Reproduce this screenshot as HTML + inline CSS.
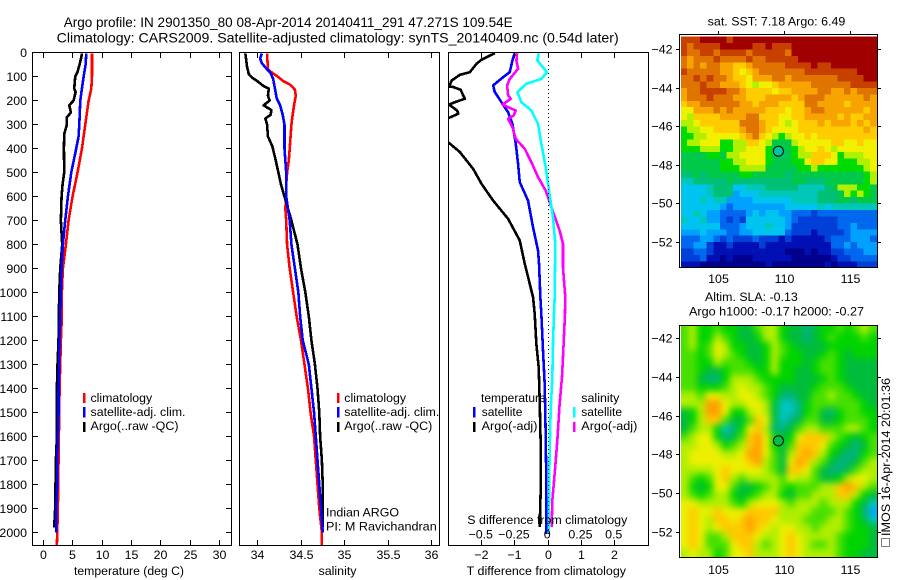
<!DOCTYPE html>
<html>
<head>
<meta charset="utf-8">
<title>Argo profile</title>
<style>
html,body{margin:0;padding:0;background:#fff;}
svg{display:block;}
text{font-family:"Liberation Sans",sans-serif;font-size:12.4px;fill:#000;}
.frame{fill:none;stroke:#000;stroke-width:1;shape-rendering:crispEdges;}
.tick{stroke:#000;stroke-width:1;shape-rendering:crispEdges;}
.mark{shape-rendering:crispEdges;}
.t14{font-size:14px;}
</style>
</head>
<body>
<svg id="chart" xmlns="http://www.w3.org/2000/svg" width="900" height="580" viewBox="0 0 900 580">
<defs>
<clipPath id="clip-diff"><rect x="449" y="53" width="199" height="492"/></clipPath>
<clipPath id="clip-sst"><rect x="681" y="35" width="196" height="232"/></clipPath>
<clipPath id="clip-sla"><rect x="681" y="326" width="196" height="231"/></clipPath>
<filter id="sla-blur" filterUnits="userSpaceOnUse" x="640" y="290" width="260" height="300" color-interpolation-filters="sRGB"><feGaussianBlur stdDeviation="3.4"/></filter>
</defs>
<rect width="900" height="580" fill="#fff"/>

<text class="t14" x="63.7" y="27" textLength="449" lengthAdjust="spacingAndGlyphs">Argo profile: IN 2901350_80 08-Apr-2014 20140411_291 47.271S 109.54E</text>
<text class="t14" x="56.7" y="42.5" textLength="562" lengthAdjust="spacingAndGlyphs">Climatology: CARS2009. Satellite-adjusted climatology: synTS_20140409.nc (0.54d later)</text>

<g id="temp-series"></g>
<g id="sal-series"></g>
<g id="diff-series" clip-path="url(#clip-diff)"></g>
<g id="sst-map" clip-path="url(#clip-sst)"></g>
<g id="sla-clip" clip-path="url(#clip-sla)"><g id="sla-map" filter="url(#sla-blur)"></g></g>

<line id="zero-line" class="tick" x1="548.5" x2="548.5" y1="53" y2="545" stroke-dasharray="1 3"/>
<g id="ticks"></g>

<rect class="frame" x="32.5" y="52.5" width="199" height="493"/>
<rect class="frame" x="239.5" y="52.5" width="200" height="493"/>
<rect class="frame" x="448.5" y="52.5" width="200" height="493"/>
<rect class="frame" x="679.5" y="34.5" width="198" height="233"/>
<rect class="frame" x="679.5" y="325.5" width="198" height="232"/>

<text x="129" y="575" text-anchor="middle" textLength="110" lengthAdjust="spacingAndGlyphs">temperature (deg C)</text>
<text x="337.5" y="575" text-anchor="middle" textLength="38" lengthAdjust="spacingAndGlyphs">salinity</text>
<text x="466.7" y="575" textLength="159.3" lengthAdjust="spacingAndGlyphs">T difference from climatology</text>
<text x="467.3" y="524" textLength="160" lengthAdjust="spacingAndGlyphs">S difference from climatology</text>

<g>
<rect class="mark" x="83" y="393" width="2.5" height="10" fill="#ff0000"/>
<rect class="mark" x="83" y="407" width="2.5" height="10.5" fill="#0000ff"/>
<rect class="mark" x="83" y="422" width="2.5" height="10" fill="#000"/>
<text x="90.5" y="402" textLength="61.7" lengthAdjust="spacingAndGlyphs">climatology</text>
<text x="90.5" y="416" textLength="95" lengthAdjust="spacingAndGlyphs">satellite-adj. clim.</text>
<text x="90.5" y="430" textLength="88" lengthAdjust="spacingAndGlyphs">Argo(..raw -QC)</text>
</g>
<g>
<rect class="mark" x="337" y="393" width="2.5" height="10" fill="#ff0000"/>
<rect class="mark" x="337" y="407" width="2.5" height="10.5" fill="#0000ff"/>
<rect class="mark" x="337" y="422" width="2.5" height="10" fill="#000"/>
<text x="344.3" y="402" textLength="61.7" lengthAdjust="spacingAndGlyphs">climatology</text>
<text x="344.3" y="416" textLength="95" lengthAdjust="spacingAndGlyphs">satellite-adj. clim.</text>
<text x="344.3" y="430" textLength="88" lengthAdjust="spacingAndGlyphs">Argo(..raw -QC)</text>
<text x="326" y="516.5" textLength="73" lengthAdjust="spacingAndGlyphs">Indian ARGO</text>
<text x="326" y="530.5" textLength="110.7" lengthAdjust="spacingAndGlyphs">PI: M Ravichandran</text>
</g>
<g>
<text x="481" y="402" textLength="64.7" lengthAdjust="spacingAndGlyphs">temperature</text>
<rect class="mark" x="473" y="407" width="2.5" height="10.5" fill="#0000ff"/>
<rect class="mark" x="473" y="422" width="2.5" height="10" fill="#000"/>
<text x="481.7" y="416" textLength="40.7" lengthAdjust="spacingAndGlyphs">satellite</text>
<text x="481.7" y="430" textLength="55.7" lengthAdjust="spacingAndGlyphs">Argo(-adj)</text>
<text x="581.3" y="402" textLength="38" lengthAdjust="spacingAndGlyphs">salinity</text>
<rect class="mark" x="573" y="407" width="2.5" height="10.5" fill="#00ffff"/>
<rect class="mark" x="573" y="422" width="2.5" height="10" fill="#ff00ff"/>
<text x="581.3" y="416" textLength="40.7" lengthAdjust="spacingAndGlyphs">satellite</text>
<text x="581.3" y="430" textLength="56" lengthAdjust="spacingAndGlyphs">Argo(-adj)</text>
</g>

<text x="707.7" y="25.5" textLength="137.6" lengthAdjust="spacingAndGlyphs">sat. SST: 7.18 Argo: 6.49</text>
<text x="705" y="301" textLength="92.7" lengthAdjust="spacingAndGlyphs">Altim. SLA: -0.13</text>
<text x="689" y="315.5" textLength="175" lengthAdjust="spacingAndGlyphs">Argo h1000: -0.17 h2000: -0.27</text>

<rect x="881.5" y="538.5" width="8" height="8" fill="none" stroke="#000" stroke-dasharray="1 1" class="mark"/>
<text transform="translate(890,536) rotate(-90)" textLength="158" lengthAdjust="spacingAndGlyphs">IMOS 16-Apr-2014 20:01:36</text>
</svg>

<script>
/* ---------- tick values ---------- */
var depthTicks = [0,100,200,300,400,500,600,700,800,900,1000,1100,1200,1300,1400,1500,1600,1700,1800,1900,2000];
var tempTicks = [0,5,10,15,20,25,30];
var salTicks = [34,34.5,35,35.5,36];
var tDiffTicks = [-2,-1,0,1,2];
var sDiffTicks = [-0.5,-0.25,0,0.25,0.5];
var lonTicks = [105,110,115];
var latTicks = [-42,-44,-46,-48,-50,-52];

/* ---------- temperature panel ---------- */
var climTempDepth = [4,100,150,200,300,400,500,600,700,800,900,1000,1100,1200,1300,1400,1500,1600,1700,1800,1900,2000,2055];
var climTemp = [8.26,8.26,8.15,7.7,7.12,6.55,5.8,4.95,4.27,3.82,3.3,3.13,3.13,2.96,2.85,2.74,2.68,2.62,2.56,2.5,2.45,2.34,2.28];
var satTempDepth = [4,50,100,150,200,300,350,400,500,600,700,800,900,1000,1100,1200,1300,1400,1500,1600,1700,1800,1900,2000];
var satTemp = [7.29,7.18,6.84,6.55,6.27,6.10,5.98,5.58,4.73,4.16,3.70,3.30,3.08,2.96,2.85,2.74,2.68,2.56,2.56,2.45,2.34,2.34,2.17,2.17];
var argoTempDepth = [4,20,50,80,100,150,165,200,220,250,270,300,340,400,500,550,600,700,800,900,1000,1100,1200,1300,1400,1500,1600,1700,1800,1900,1950,1980];
var argoTemp = [6.55,6.44,6.15,5.81,5.41,5.24,5.47,5.13,4.39,4.67,3.99,3.99,3.53,3.48,3.53,3.25,3.08,2.96,3.19,2.85,2.68,2.62,2.56,2.39,2.28,2.28,2.28,2.11,2.05,1.99,1.88,1.88];

/* ---------- salinity panel ---------- */
var climSalDepth = [4,70,85,100,120,135,155,180,220,270,300,350,400,450,500,550,600,650,700,800,900,1000,1100,1200,1300,1400,1500,1600,1700,1800,1900,2000,2055];
var climSal = [34.11,34.12,34.17,34.23,34.30,34.38,34.43,34.44,34.42,34.40,34.39,34.38,34.37,34.36,34.34,34.33,34.33,34.32,34.33,34.34,34.37,34.41,34.45,34.50,34.54,34.58,34.61,34.65,34.67,34.69,34.71,34.74,34.74];
var satSalDepth = [4,25,45,70,85,110,150,190,220,260,300,400,500,600,700,800,900,1000,1100,1200,1300,1400,1500,1600,1700,1800,1900,2000];
var satSal = [34.05,34.03,34.05,34.11,34.15,34.18,34.20,34.22,34.26,34.29,34.31,34.31,34.33,34.33,34.37,34.39,34.43,34.47,34.49,34.52,34.59,34.62,34.65,34.67,34.69,34.71,34.73,34.75];
var argoSalDepth = [4,30,60,90,105,120,140,150,180,200,220,240,260,275,300,350,390,450,500,550,600,650,700,800,900,1000,1100,1200,1300,1400,1500,1600,1700,1800,1900,1980];
var argoSal = [33.86,33.87,33.88,33.90,33.94,34.00,34.07,34.13,34.12,34.14,34.07,34.16,34.15,34.09,34.11,34.12,34.17,34.21,34.24,34.27,34.31,34.35,34.39,34.46,34.50,34.55,34.59,34.62,34.66,34.69,34.71,34.72,34.74,34.75,34.75,34.75];

/* ---------- difference panel ---------- */
var argoTDiffDepth = [3,30,47,82,93,117,142,144,155,193,207,217,225,242,255,272,290,360,374,415,485,547,617,693,783,880,1019,1089,1214,1311,1450,1631,1825,1978];
var argoTDiff = [-1.6,-2.0,-2.15,-2.35,-2.65,-2.9,-2.97,-2.85,-2.63,-2.5,-2.8,-2.97,-2.9,-2.73,-2.7,-2.97,-3.4,-3.4,-3.0,-2.65,-2.25,-2.0,-1.65,-1.2,-0.85,-0.7,-0.45,-0.4,-0.35,-0.28,-0.25,-0.22,-0.22,-0.25];
var satTDiffDepth = [3,33,82,103,137,165,207,249,297,380,464,540,617,728,825,880,1019,1089,1242,1380,1589,1797,2006];
var satTDiff = [-1.0,-1.07,-1.15,-1.35,-1.65,-1.6,-1.4,-1.2,-1.07,-0.97,-0.9,-0.85,-0.6,-0.45,-0.3,-0.27,-0.23,-0.2,-0.15,-0.1,-0.07,-0.05,-0.05];
var satSDiffDepth = [3,33,54,82,110,130,165,207,242,297,380,478,575,686,797,1019,1089,1214,1353,1492,1658,1867,2006];
var satSDiff = [-0.07,-0.08,-0.05,-0.0075,-0.05,-0.1625,-0.23,-0.2,-0.125,-0.075,-0.05,-0.0175,0.0075,0.0375,0.055,0.05,0.045,0.0375,0.0325,0.02,0.0125,0.0075,0.005];
var argoSDiffDepth = [3,33,68,110,137,179,193,217,242,262,276,311,360,401,457,519,575,644,742,797,894,1019,1089,1214,1353,1464,1617,1756,1867,1978];
var argoSDiff = [-0.2325,-0.2375,-0.225,-0.2875,-0.3075,-0.3,-0.28,-0.3425,-0.2425,-0.2575,-0.3,-0.2675,-0.2425,-0.175,-0.125,-0.075,-0.0175,0.025,0.0875,0.1125,0.1125,0.13,0.1275,0.1175,0.105,0.0875,0.07,0.05,0.0325,0.0275];

/* ---------- profile location ---------- */
var profileLon = 109.54;
var profileLat = -47.271;

/* ---------- SST map: colour level of each cell, north to south ---------- */
var sstPalette = ['#00008c','#0010b4','#0040d8','#0068ee','#00a0ff','#00c4f0','#00c8b8','#00c078','#00c848','#00dc00','#b0f000','#f0f000','#ffcc00','#f8a400','#e07400','#c84000','#a00000'];
var sstLevels = [
[15,15,15,16,16,16,16,15,16,16,16,16,16,16,16,16,16,16,16,16,16,16,16,16,16,16,16,16,16,16],
[15,14,15,15,15,15,16,16,16,16,16,15,15,16,15,15,15,16,16,16,16,16,16,16,16,16,16,16,16,16],
[15,14,14,15,15,14,15,15,15,15,14,15,15,15,15,15,14,16,16,16,16,16,16,16,16,16,16,16,16,16],
[14,13,14,14,14,15,14,14,14,14,15,14,14,15,15,15,15,15,16,16,16,16,16,16,16,16,16,16,16,16],
[14,13,14,13,14,14,13,13,12,12,13,14,14,14,14,14,15,15,15,15,16,15,15,16,16,16,16,16,16,16],
[15,14,14,14,14,14,13,13,12,11,12,13,14,14,14,14,14,14,14,15,15,15,15,15,15,15,15,16,16,16],
[14,14,15,14,15,14,14,13,12,12,11,13,13,13,14,14,13,14,14,14,14,14,14,14,15,15,15,15,16,16],
[14,14,14,15,14,14,13,13,13,12,11,10,11,11,12,13,13,13,13,13,14,14,14,14,14,14,15,15,15,15],
[13,14,14,15,15,15,15,14,14,13,12,12,12,12,11,12,12,13,13,13,13,14,14,13,13,14,13,14,14,14],
[13,14,14,14,15,14,14,14,13,13,12,12,12,13,13,13,13,12,13,14,14,14,13,13,13,13,13,13,14,13],
[12,13,13,14,14,14,14,14,14,13,13,12,13,13,13,12,12,12,12,14,14,13,13,13,13,12,13,13,13,13],
[11,11,13,13,13,14,13,14,13,13,13,13,13,12,12,12,11,12,12,13,14,14,13,13,13,13,13,13,12,13],
[11,10,12,12,12,12,13,13,13,13,14,14,12,12,12,11,11,12,12,13,13,13,13,13,12,13,12,12,13,13],
[10,10,11,12,12,12,12,12,12,14,14,14,13,12,12,11,10,11,12,12,12,13,12,13,13,13,12,13,12,13],
[9,10,10,11,11,12,12,12,12,13,14,14,13,12,11,11,11,11,12,12,12,12,12,12,12,12,12,12,13,12],
[9,9,10,10,11,11,11,11,11,12,13,14,12,11,10,9,10,11,11,12,11,12,12,12,12,12,12,12,12,12],
[9,10,10,11,11,11,9,9,10,10,12,12,11,10,8,8,8,10,11,11,11,11,11,12,12,11,11,12,11,11],
[9,9,9,10,10,10,9,9,10,10,11,11,11,9,8,8,8,9,10,11,11,12,11,10,11,11,11,11,11,11],
[8,8,8,8,9,9,8,10,10,11,11,11,11,9,8,7,8,9,10,10,12,12,12,11,9,10,10,10,11,11],
[8,8,8,8,8,8,9,9,10,10,11,11,11,9,8,8,8,9,9,11,12,12,11,11,9,9,9,10,10,11],
[8,8,8,8,8,8,9,9,9,10,10,10,10,8,8,8,8,8,9,9,10,9,9,9,9,9,9,9,10,11],
[7,7,8,7,8,8,8,8,8,9,9,8,8,8,8,8,7,8,8,8,8,8,8,8,8,8,8,8,9,10],
[6,6,7,7,7,7,7,8,7,7,7,7,7,7,7,7,7,8,8,7,7,7,8,8,8,8,8,8,9,10],
[5,5,5,5,6,7,7,7,5,5,6,6,6,7,7,7,7,7,6,6,6,6,7,8,10,10,10,9,9,8],
[5,5,5,5,6,7,7,7,4,5,5,5,6,6,6,6,6,6,6,6,6,7,7,7,8,10,9,10,9,8],
[5,5,5,6,5,6,6,4,4,4,4,5,5,5,5,5,5,6,6,6,6,7,7,7,8,8,7,8,8,8],
[5,5,5,5,5,5,4,3,4,4,4,4,4,4,4,4,5,5,5,5,5,6,5,6,6,6,6,6,6,6],
[5,5,6,5,4,4,3,3,3,3,4,5,4,5,5,4,4,3,3,3,2,3,3,3,3,3,3,3,3,3],
[6,5,5,6,4,4,3,2,3,2,5,5,5,5,5,5,4,3,2,2,2,2,2,2,3,3,3,3,3,3],
[5,5,5,5,5,5,3,3,3,4,5,5,5,6,5,5,4,2,2,2,2,2,2,2,3,3,4,3,3,3],
[4,4,4,5,4,4,4,3,3,4,4,5,5,5,5,5,3,2,2,2,1,2,2,2,2,3,4,4,4,4],
[3,3,3,4,4,3,2,3,2,2,2,3,2,2,2,1,2,1,1,1,1,1,2,3,3,3,4,4,4,3],
[3,3,4,4,2,1,1,2,1,1,1,1,2,1,1,1,1,1,1,1,1,1,1,3,3,4,3,4,4,4],
[2,2,3,3,2,1,1,1,1,1,1,1,1,1,1,1,0,0,0,1,0,1,1,2,2,3,3,3,4,4],
[2,2,2,3,1,1,0,1,0,0,0,1,1,1,1,1,1,0,0,0,0,0,0,1,2,2,3,3,3,3],
[1,1,1,0,0,0,0,0,0,0,0,0,0,1,0,0,0,0,0,0,0,0,1,0,1,1,1,2,2,2]
];

/* ---------- SLA map: colour level of each cell, north to south ---------- */
var slaPalette = ['#00a8ff','#00c4c0','#00b47c','#00bc3c','#00d400','#48e000','#b0ee00','#ecf000','#ffc800','#ffa000'];
var slaLevels = [
[5,6,4,4,5,4,4,3,3,5,6,6,4,3,3,2,3,4,4,5,4,5,6,5],
[5,6,4,4,6,5,4,3,3,4,6,6,4,3,3,2,3,4,5,4,4,4,5,4],
[5,6,4,5,7,6,4,4,3,3,4,6,5,4,3,3,3,3,4,4,4,4,4,4],
[5,5,4,5,7,6,5,4,3,3,4,6,5,4,4,3,3,4,5,4,3,4,4,4],
[5,5,4,4,6,5,5,5,4,3,4,6,4,4,4,3,4,5,5,4,3,3,3,3],
[5,5,4,3,3,4,5,5,5,4,4,6,4,4,3,3,4,5,5,4,3,3,3,3],
[5,5,3,2,2,4,6,6,6,5,4,4,4,4,3,3,3,4,5,4,3,3,3,3],
[5,5,4,4,4,5,6,7,6,6,5,4,3,3,3,3,4,5,5,5,4,3,3,3],
[6,6,5,7,7,6,6,7,7,6,5,4,2,2,3,3,5,5,6,5,5,4,3,3],
[6,6,6,9,9,7,6,6,7,7,6,3,1,1,2,4,5,5,5,5,5,5,4,3],
[3,4,6,9,9,7,4,4,6,7,6,3,1,1,2,4,5,3,2,4,5,5,4,4],
[3,4,6,8,8,5,3,3,5,8,7,3,1,2,3,5,5,3,3,4,5,5,5,4],
[3,5,6,6,4,1,2,4,7,8,6,2,2,3,5,6,6,5,5,5,6,6,5,4],
[5,6,7,7,4,2,3,5,8,9,7,4,3,4,7,8,8,8,6,5,4,3,4,5],
[6,6,7,7,6,4,5,6,8,9,7,4,3,5,8,8,8,7,5,4,3,2,3,5],
[6,7,7,7,7,6,6,7,9,9,7,5,3,6,8,9,8,6,4,3,2,2,4,5],
[6,7,7,7,7,7,7,7,8,9,6,5,3,7,9,8,6,5,3,2,2,3,5,6],
[6,6,6,6,7,8,7,7,7,7,6,5,3,8,8,7,5,3,2,2,3,5,6,6],
[6,5,4,5,7,8,6,5,6,6,6,6,5,7,6,6,5,3,3,4,6,7,7,6],
[6,4,3,4,7,7,5,3,3,4,5,6,5,4,5,5,5,6,6,8,9,8,6,5],
[6,5,4,5,6,6,4,3,4,5,6,6,4,3,5,5,6,6,6,8,8,6,4,3],
[7,7,6,6,6,6,5,4,6,7,7,7,6,5,6,6,6,5,6,6,6,4,3,1],
[7,8,7,7,8,7,7,7,8,8,8,8,6,6,6,6,5,5,5,6,5,4,2,0],
[7,8,7,6,8,8,7,8,9,8,8,7,6,6,6,5,5,5,6,6,5,4,3,1],
[7,8,7,6,7,8,8,8,9,8,7,6,7,7,6,6,5,6,6,6,5,4,4,3],
[7,8,7,5,5,6,8,8,8,7,6,6,7,8,7,6,6,6,6,5,4,4,4,3],
[7,8,7,5,5,5,7,8,8,6,5,6,7,8,7,6,5,5,6,5,4,4,4,3],
[6,7,6,6,4,5,7,7,8,6,6,6,7,8,7,6,6,6,6,5,4,4,3,3]
];

/* ---------- axis functions ---------- */
function lin(d0,d1,r0,r1){return function(v){return r0+(v-d0)*(r1-r0)/(d1-d0);};}
var yDepth = lin(0,2000,52.5,532.5);
var xTemp = lin(0,30,43.5,219.5);
var xSal = lin(34,36,257.5,431.5);
var xTDiff = lin(-2,2,481.5,614.5);
var xSDiff = lin(-0.5,0.5,481.5,614.5);
var xLon = lin(105,115,718.5,850.5);
var ySst = lin(-42,-52,49.5,242.5);
var ySla = lin(-42,-52,338.5,532.5);

var NS = 'http://www.w3.org/2000/svg';
function make(tag,parent){var e=document.createElementNS(NS,tag);parent.appendChild(e);return e;}

function profile(parent,xs,ds,xScale,color,width){
  var pts=[];
  for(var i=0;i<xs.length;i++){pts.push(xScale(xs[i]).toFixed(2)+','+yDepth(ds[i]).toFixed(2));}
  var p=make('polyline',parent);
  p.setAttribute('points',pts.join(' '));
  p.setAttribute('fill','none');
  p.setAttribute('stroke',color);
  p.setAttribute('stroke-width',width);
  p.setAttribute('stroke-linejoin','round');
  p.setAttribute('class','mark');
  return p;
}
function tick(x1,y1,x2,y2,name){
  var l=make('line',document.getElementById('ticks'));
  l.setAttribute('x1',x1);
  l.setAttribute('y1',y1);
  l.setAttribute('x2',x2);
  l.setAttribute('y2',y2);
  l.setAttribute('class','tick');
  
  
}
function label(x,y,str,anchor,name){
  var t=make('text',document.getElementById('ticks'));
  t.setAttribute('x',x);
  t.setAttribute('y',y);
  t.setAttribute('text-anchor',anchor);
  t.textContent=str;
  
  
}
function minus(v){return String(v).replace('-','\u2212');}

/* series */
var gT=document.getElementById('temp-series');
var s;
s=profile(gT,climTemp,climTempDepth,xTemp,'#ff0000',2.6);


s=profile(gT,argoTemp,argoTempDepth,xTemp,'#000000',2.6);


s=profile(gT,satTemp,satTempDepth,xTemp,'#0000ff',2.6);



var gS=document.getElementById('sal-series');
s=profile(gS,climSal,climSalDepth,xSal,'#ff0000',2.6);


s=profile(gS,argoSal,argoSalDepth,xSal,'#000000',2.6);


s=profile(gS,satSal,satSalDepth,xSal,'#0000ff',2.6);



var gD=document.getElementById('diff-series');
s=profile(gD,argoTDiff,argoTDiffDepth,xTDiff,'#000000',2.6);


s=profile(gD,satTDiff,satTDiffDepth,xTDiff,'#0000ff',2.6);


s=profile(gD,argoSDiff,argoSDiffDepth,xSDiff,'#ff00ff',2.6);


s=profile(gD,satSDiff,satSDiffDepth,xSDiff,'#00ffff',2.6);



/* ticks and labels */
depthTicks.forEach(function(d){
  var y=Math.round(yDepth(d)-0.5)+0.5;
  tick(33,y,38,y,'depth-tick-left');
  tick(226,y,231,y,'depth-tick-right');
  label(27,y+4.5,String(d),'end','depth-tick-label');
});
tempTicks.forEach(function(v){
  var x=Math.round(xTemp(v)-0.5)+0.5;
  tick(x,53,x,58,'temperature-tick-top');
  tick(x,540,x,545,'temperature-tick-bottom');
  label(x,559,String(v),'middle','temperature-tick-label');
});
salTicks.forEach(function(v){
  var x=Math.round(xSal(v)-0.5)+0.5;
  tick(x,53,x,58,'salinity-tick-top');
  tick(x,540,x,545,'salinity-tick-bottom');
  label(x,559,String(v),'middle','salinity-tick-label');
});
tDiffTicks.forEach(function(v){
  var x=Math.round(xTDiff(v)-0.5)+0.5;
  tick(x,53,x,58,'t-difference-tick-top');
  tick(x,540,x,545,'t-difference-tick-bottom');
  label(x,559,minus(v),'middle','t-difference-tick-label');
});
sDiffTicks.forEach(function(v){
  label(xSDiff(v)-0.8,538.7,minus(v),'middle','s-difference-tick-label');
});
lonTicks.forEach(function(v){
  var x=Math.round(xLon(v)-0.5)+0.5;
  tick(x,31,x,34,'sst-lon-tick');
  tick(x,322,x,325,'sla-lon-tick');
  label(x,283,String(v),'middle','sst-lon-label');
  label(x,574,String(v),'middle','sla-lon-label');
});
latTicks.forEach(function(v){
  var y1=Math.round(ySst(v)-0.5)+0.5;
  tick(676,y1,679,y1,'sst-lat-tick-left');
  tick(878,y1,881,y1,'sst-lat-tick-right');
  label(672.5,y1+4,minus(v),'end','sst-lat-label');
  var y2=Math.round(ySla(v)-0.5)+0.5;
  tick(676,y2,679,y2,'sla-lat-tick-left');
  tick(878,y2,881,y2,'sla-lat-tick-right');
  label(672.5,y2+4,minus(v),'end','sla-lat-label');
});

/* heatmaps */
var mapLonLeft=102.13, mapLonRight=116.97;
var sstLatTop=-41.33, sstLatBottom=-53.31;
var gSst=document.getElementById('sst-map');
sstLevels.forEach(function(row,r){
  row.forEach(function(level,c){
    var x0=xLon(mapLonLeft+(mapLonRight-mapLonLeft)*c/row.length);
    var x1=xLon(mapLonLeft+(mapLonRight-mapLonLeft)*(c+1)/row.length);
    var y0=ySst(sstLatTop+(sstLatBottom-sstLatTop)*r/sstLevels.length);
    var y1=ySst(sstLatTop+(sstLatBottom-sstLatTop)*(r+1)/sstLevels.length);
    var cell=make('rect',gSst);
    cell.setAttribute('x',x0.toFixed(2));
    cell.setAttribute('y',y0.toFixed(2));
    cell.setAttribute('width',(x1-x0+0.6).toFixed(2));
    cell.setAttribute('height',(y1-y0+0.6).toFixed(2));
    cell.setAttribute('fill',sstPalette[level]);
    cell.setAttribute('class','mark');
    
    
  });
});
var slaLatTop=-41.31, slaLatBottom=-53.27;
var gSla=document.getElementById('sla-map');
slaLevels.forEach(function(row,r){
  row.forEach(function(level,c){
    var x0=xLon(mapLonLeft+(mapLonRight-mapLonLeft)*c/row.length);
    var x1=xLon(mapLonLeft+(mapLonRight-mapLonLeft)*(c+1)/row.length);
    var y0=ySla(slaLatTop+(slaLatBottom-slaLatTop)*r/slaLevels.length);
    var y1=ySla(slaLatTop+(slaLatBottom-slaLatTop)*(r+1)/slaLevels.length);
    if(c===0){x0-=30;}
    if(c===row.length-1){x1+=30;}
    if(r===0){y0-=30;}
    if(r===slaLevels.length-1){y1+=30;}
    var cell=make('rect',gSla);
    cell.setAttribute('x',x0.toFixed(2));
    cell.setAttribute('y',y0.toFixed(2));
    cell.setAttribute('width',(x1-x0+0.6).toFixed(2));
    cell.setAttribute('height',(y1-y0+0.6).toFixed(2));
    cell.setAttribute('fill',slaPalette[level]);
    
    
  });
});

/* profile location markers */
var root=document.getElementById('chart');
var m1=make('circle',root);
m1.setAttribute('cx',xLon(profileLon).toFixed(2));
m1.setAttribute('cy',ySst(profileLat).toFixed(2));
m1.setAttribute('r',5);
m1.setAttribute('fill','#00c8a0');
m1.setAttribute('stroke','#000');


var m2=make('circle',root);
m2.setAttribute('cx',xLon(profileLon).toFixed(2));
m2.setAttribute('cy',ySla(profileLat).toFixed(2));
m2.setAttribute('r',5);
m2.setAttribute('fill','#00c044');
m2.setAttribute('stroke','#000');


</script>
</body>
</html>
